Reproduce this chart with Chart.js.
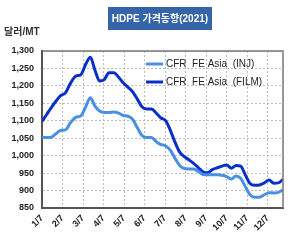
<!DOCTYPE html>
<html>
<head>
<meta charset="utf-8">
<script src="https://cdn.jsdelivr.net/npm/chart.js@4"></script>
<style>
  html, body { margin: 0; padding: 0; background: #fff; }
  #wrap { width: 300px; height: 248px; position: relative; }
</style>
</head>
<body>
<div id="wrap"><canvas id="chart" width="300" height="248"></canvas></div>
<script>
  // weekly prices, USD/MT, starting 2021-01-07
  const startDate = "2021-01-07";
  const monthTicks = ["1/7", "2/7", "3/7", "4/7", "5/7", "6/7", "7/7", "8/7", "9/7", "10/7", "11/7", "12/7"];
  const yTicks = [850, 900, 950, 1000, 1050, 1100, 1150, 1200, 1250, 1300];

  const injPrices = [1053, 1052, 1053, 1063, 1072, 1074, 1095, 1110, 1114, 1140,
    1166, 1142, 1128, 1124, 1124, 1125, 1122, 1115, 1113, 1104,
    1080, 1058, 1052, 1052, 1040, 1032, 1028, 1015, 992, 972,
    963, 962, 962, 955, 946, 945, 945, 945, 944, 940,
    933, 942, 935, 912, 888, 881, 881, 888, 894, 893,
    895, 902];

  const filmPrices = [1098, 1118, 1138, 1156, 1172, 1180, 1208, 1228, 1232, 1262,
    1282, 1245, 1214, 1218, 1238, 1238, 1225, 1208, 1196, 1183,
    1162, 1140, 1134, 1134, 1122, 1108, 1100, 1072, 1038, 1010,
    997, 988, 978, 966, 954, 951, 960, 965, 970, 973,
    964, 972, 970, 945, 920, 915, 916, 922, 930, 921,
    922, 932];

  const seriesLabels = ["CFR  FE Asia  (INJ)", "CFR  FE Asia  (FILM)"];
  const seriesColors = ["#4a90e2", "#0a2fc8"];

  // position of a date on a month axis where each tick is the 7th
  function monthPos(d) {
    let m = d.getMonth();
    let anchor = new Date(2021, m, 7);
    if (d < anchor) { m -= 1; anchor = new Date(2021, m, 7); }
    const next = new Date(2021, m + 1, 7);
    return m + (d - anchor) / (next - anchor);
  }

  const s = new Date(startDate + "T00:00:00");
  const xs = injPrices.map((_, i) => monthPos(new Date(s.getFullYear(), s.getMonth(), s.getDate() + 7 * i)));

  const toPts = arr => arr.map((v, i) => ({ x: xs[i], y: v }));

  const FONT = "'Liberation Sans', Arial, sans-serif";

  const decor = {
    id: "decor",
    afterDraw(chart) {
      const { ctx, chartArea: a } = chart;
      ctx.save();
      // top/right frame
      ctx.strokeStyle = "#777";
      ctx.lineWidth = 1.5;
      ctx.beginPath();
      ctx.moveTo(a.left, a.top);
      ctx.lineTo(a.right, a.top);
      ctx.lineTo(a.right, a.bottom);
      ctx.stroke();

      // title box
      ctx.fillStyle = "#3565a8";
      ctx.fillRect(108, 7, 104, 23);
      ctx.fillStyle = "#fff";
      ctx.font = "bold 10px 'Liberation Sans', 'Noto Sans CJK KR', sans-serif";
      ctx.textAlign = "center";
      ctx.textBaseline = "middle";
      ctx.fillText("HDPE 가격동향(2021)", 160, 19);

      // unit
      ctx.fillStyle = "#333";
      ctx.font = "bold 10px 'Liberation Sans', 'Noto Sans CJK KR', sans-serif";
      ctx.textAlign = "left";
      ctx.fillText("달러/MT", 4, 32);

      // legend inside the plot
      ctx.font = "10px " + FONT;
      chart.data.datasets.forEach((ds, i) => {
        const y = 64 + i * 18;
        ctx.strokeStyle = ds.borderColor;
        ctx.lineWidth = 3;
        ctx.beginPath();
        ctx.moveTo(146, y);
        ctx.lineTo(163, y);
        ctx.stroke();
        ctx.fillStyle = "#222";
        ctx.fillText(ds.label, 166, y);
      });
      ctx.restore();
    }
  };

  new Chart(document.getElementById("chart"), {
    type: "line",
    data: {
      datasets: [
        { label: seriesLabels[0], data: toPts(injPrices), borderColor: seriesColors[0], borderWidth: 3, pointRadius: 0, tension: 0.4, cubicInterpolationMode: "monotone" },
        { label: seriesLabels[1], data: toPts(filmPrices), borderColor: seriesColors[1], borderWidth: 3, pointRadius: 0, tension: 0.4, cubicInterpolationMode: "monotone" }
      ]
    },
    options: {
      responsive: false,
      animation: false,
      layout: { padding: { top: 51, right: 17, left: 0, bottom: 0 } },
      plugins: { legend: { display: false }, tooltip: { enabled: false } },
      scales: {
        x: {
          type: "linear",
          min: 0,
          max: xs[xs.length - 1],
          afterBuildTicks: sc => { sc.ticks = monthTicks.map((_, i) => ({ value: i })); },
          afterFit: sc => { sc.height = 40; },
          ticks: {
            callback: v => monthTicks[v],
            minRotation: 45, maxRotation: 45,
            padding: 5,
            color: "#222",
            font: { family: FONT, size: 9, weight: "bold" }
          },
          grid: { color: "#bbb", lineWidth: 1, tickLength: 0 },
          border: { color: "#555", width: 2, dash: [2, 2] }
        },
        y: {
          min: 850,
          max: 1300,
          afterBuildTicks: sc => { sc.ticks = yTicks.map(v => ({ value: v })); },
          afterFit: sc => { sc.width = 42; },
          ticks: {
            callback: v => v.toLocaleString("en-US"),
            padding: 8,
            color: "#222",
            font: { family: FONT, size: 9, weight: "bold" }
          },
          grid: { color: "#bbb", lineWidth: 1, tickLength: 0 },
          border: { color: "#555", width: 2, dash: [2, 2] }
        }
      }
    },
    plugins: [decor]
  });
</script>
</body>
</html>
